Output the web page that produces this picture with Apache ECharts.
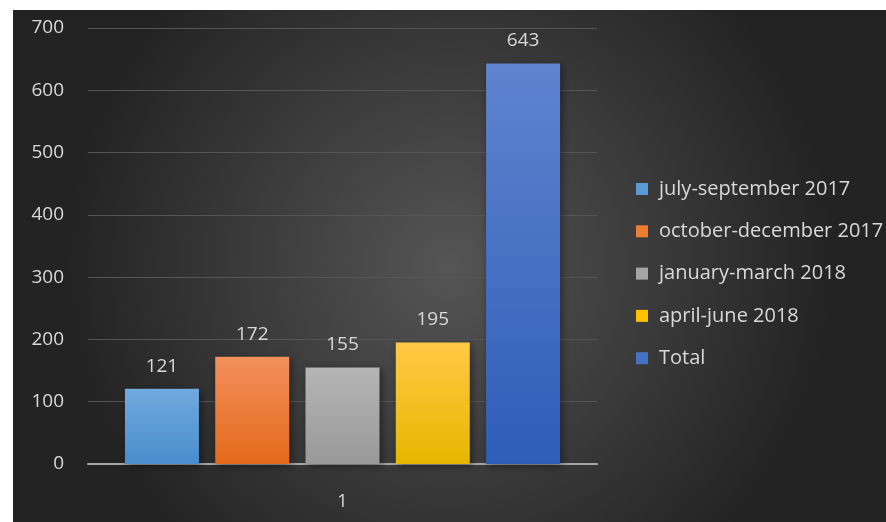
<!DOCTYPE html>
<html>
<head>
<meta charset="utf-8">
<script src="https://cdn.jsdelivr.net/npm/echarts@6/dist/echarts.min.js"></script>
<style>
html,body{margin:0;padding:0;background:#fff;}
#c{position:absolute;left:13px;top:10px;width:873px;height:512px;}
</style>
</head>
<body>
<div id="c"></div>
<script>
const categories = ['1'];
const seriesNames = ['july-september 2017','october-december 2017','january-march 2018','april-june 2018','Total'];
const seriesValues = [[121],[172],[155],[195],[643]];
const yTicks = [0,100,200,300,400,500,600,700];

const gradients = [
  ['#70a9de','#4a8dcd'],
  ['#f38f5c','#e46a1b'],
  ['#b5b5b5','#999999'],
  ['#ffc945','#e6b700'],
  ['#5e84cf','#2e5db7']
];
const legendColors = ['#5b9bd5','#ed7d31','#a5a5a5','#ffc000','#4472c4'];

const chart = echarts.init(document.getElementById('c'));
const font = 'Open Sans, Lato, sans-serif';
chart.setOption({
  backgroundColor: {
    type:'radial', x:0.5, y:0.5, r:0.75,
    colorStops:[{offset:0,color:'#555555'},{offset:1,color:'#232323'}]
  },
  animation:false,
  grid:{left:75,right:289,top:18,bottom:58},
  legend:{
    orient:'vertical', left:618, top:164,
    itemWidth:12, itemHeight:12, itemGap:22.3,
    icon:'rect',
    textStyle:{color:'#d9d9d9', fontSize:20, fontFamily:font, lineHeight:19, padding:[0,0,0,6]},
    data: seriesNames.map((n,i)=>({name:n, itemStyle:{color:legendColors[i]}}))
  },
  xAxis:{
    type:'category', data:categories,
    axisLine:{lineStyle:{color:'#a6a6a6', width:2}},
    axisTick:{show:false},
    axisLabel:{color:'#d9d9d9', fontSize:18, fontFamily:font, margin:29}
  },
  yAxis:{
    type:'value', min:0, max:700, interval:100,
    axisLine:{show:false}, axisTick:{show:false},
    axisLabel:{color:'#d9d9d9', fontSize:19, fontFamily:font, margin:24,
      formatter: v => yTicks.includes(v) ? String(v) : ''},
    splitLine:{lineStyle:{color:'#555555', width:1}}
  },
  series: seriesNames.map((n,i)=>({
    name:n, type:'bar', data:seriesValues[i],
    barWidth:74, barGap:'22%',
    itemStyle:{
      color:{type:'linear',x:0,y:0,x2:0,y2:1,colorStops:[{offset:0,color:gradients[i][0]},{offset:1,color:gradients[i][1]}]},
      shadowColor:'rgba(0,0,0,0.45)', shadowBlur:8, shadowOffsetX:2, shadowOffsetY:2
    },
    label:{show:true, position:'top', distance:13, color:'#d9d9d9', fontSize:19, fontFamily:font}
  }))
});
</script>
</body>
</html>
